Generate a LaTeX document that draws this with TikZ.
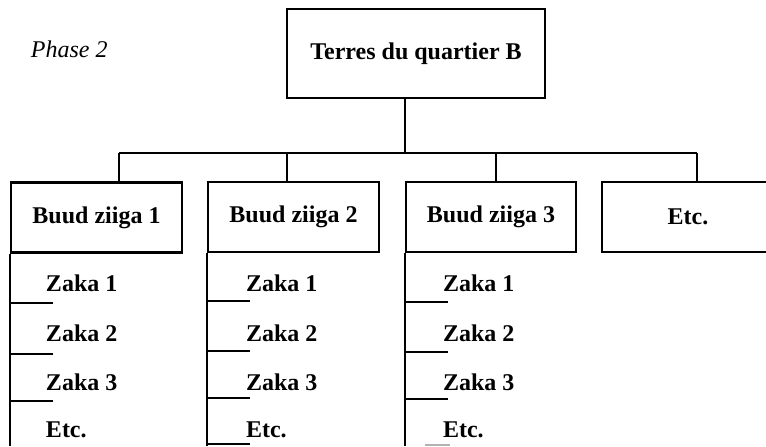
\documentclass[tikz,border=0pt]{standalone}
\usepackage{fontspec}
\setmainfont{Liberation Serif}
\begin{document}
\begin{tikzpicture}[x=0.5pt,y=-0.5pt,
  line width=1pt,
  box/.style={draw, rectangle, inner sep=0pt, line width=1.1pt,
    font=\fontsize{12}{14}\selectfont\bfseries},
  item/.style={anchor=west, inner sep=0pt, font=\fontsize{12}{14}\selectfont\bfseries},
  link/.style={line width=1.1pt}]
\useasboundingbox (0,0) rectangle (766,446);
\node[anchor=west, inner sep=0pt, font=\fontsize{12}{14}\selectfont\itshape] (phase) at (30,49) {Phase 2};
\node[box, minimum width=129pt, minimum height=44.5pt] (top) at (416,53.5) {Terres du quartier B};
\node[box, minimum width=85.5pt, minimum height=35pt] (b1) at (96.5,217.5) {Buud ziiga 1};
\node[box, minimum width=85.5pt, minimum height=35pt] (b2) at (293.5,217) {Buud ziiga 2};
\node[box, minimum width=85pt, minimum height=35pt] (b3) at (491,217) {Buud ziiga 3};
\node[box, minimum width=86pt, minimum height=35pt] (b4) at (688,217) {Etc.};
% tree connectors
\coordinate (j) at (405,153);
\coordinate (d1) at (119,153);
\coordinate (d2) at (287,153);
\coordinate (d3) at (496,153);
\coordinate (d4) at (697,153);
\draw[link] (top.south -| j) -- (j);
\draw[link] (d1) -- (d4);
\draw[link] (d1) -- (d1 |- b1.north);
\draw[link] (d2) -- (d2 |- b2.north);
\draw[link] (d3) -- (d3 |- b3.north);
\draw[link] (d4) -- (d4 |- b4.north);
% column 1
\coordinate (e1) at (b1.south west |- 0,446);
\draw[link] (b1.south west) -- (e1);
\node[item] (z11) at (45,283) {Zaka 1};
\node[item] (z12) at (45,333) {Zaka 2};
\node[item] (z13) at (45,382) {Zaka 3};
\node[item] (z14) at (45,430) {Etc.};
\foreach \yy in {303,354,401} \draw[link] (b1.west |- 0,\yy) -- ++(43,0);
% column 2
\coordinate (e2) at (b2.south west |- 0,446);
\draw[link] (b2.south west) -- (e2);
\node[item] (z21) at (245,283) {Zaka 1};
\node[item] (z22) at (245,333) {Zaka 2};
\node[item] (z23) at (245,382) {Zaka 3};
\node[item] (z24) at (245,430) {Etc.};
\foreach \yy in {301,351,398,444} \draw[link] (b2.west |- 0,\yy) -- ++(43,0);
% column 3
\coordinate (e3) at (b3.south west |- 0,446);
\draw[link] (b3.south west) -- (e3);
\node[item] (z31) at (442,283) {Zaka 1};
\node[item] (z32) at (442,333) {Zaka 2};
\node[item] (z33) at (442,382) {Zaka 3};
\node[item] (z34) at (442,430) {Etc.};
\foreach \yy in {302,352,399} \draw[link] (b3.west |- 0,\yy) -- ++(43,0);
\draw[line width=0.6pt, gray!60] (425,445) -- (450,445);
\end{tikzpicture}
\end{document}
